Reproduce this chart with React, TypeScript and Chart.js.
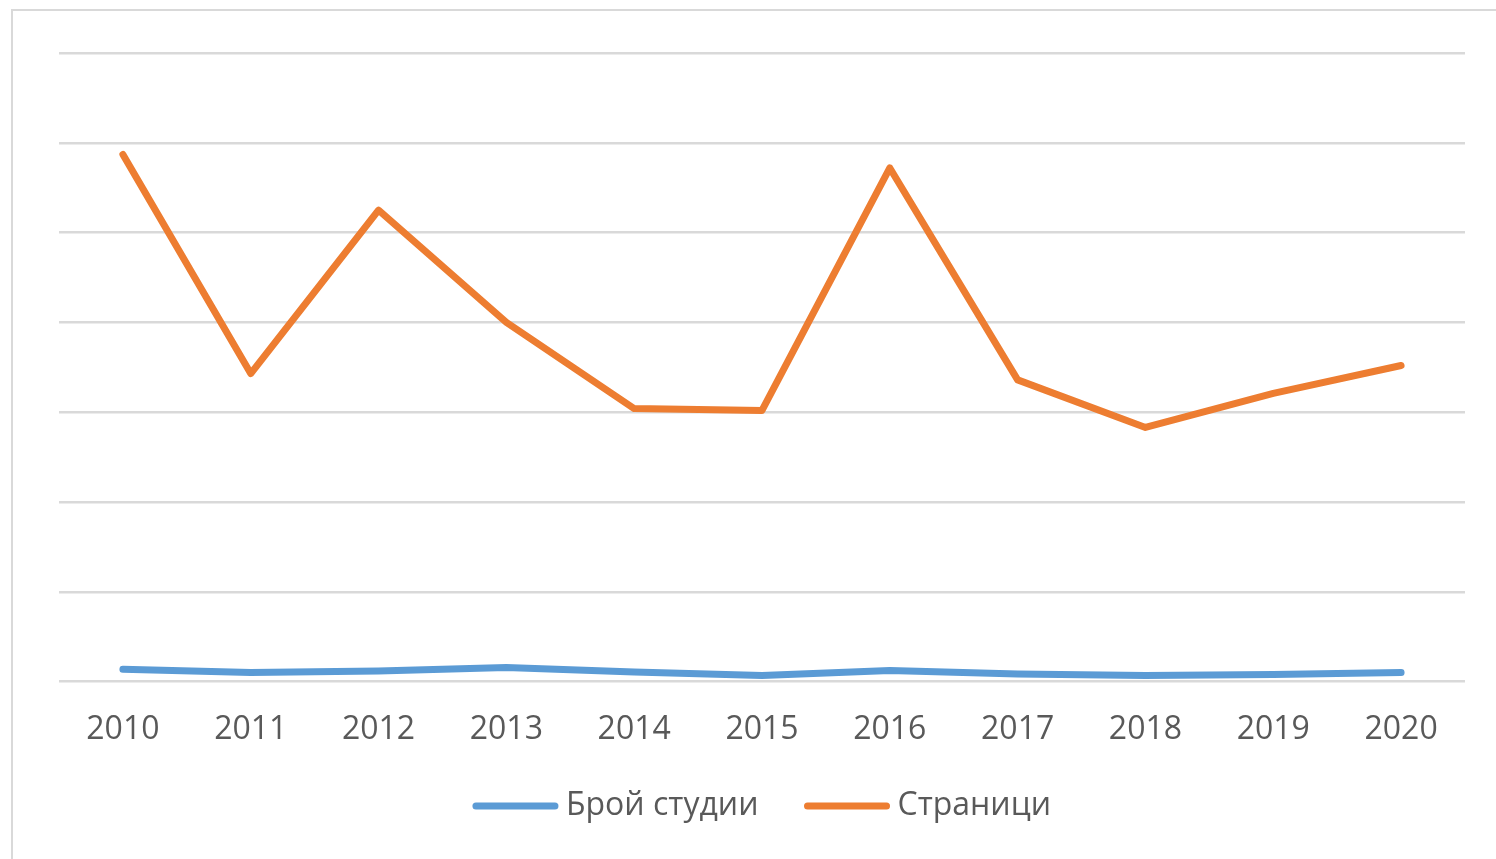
import React, { useEffect, useRef } from "react";
import { Chart, registerables } from "chart.js";

Chart.register(...registerables);

const years = ["2010", "2011", "2012", "2013", "2014", "2015", "2016", "2017", "2018", "2019", "2020"];
const students = [13.7, 10, 11.7, 15.6, 10.6, 6.7, 12.3, 8.4, 6.7, 7.8, 10];
const pages = [587, 343, 525, 400, 304, 302, 572, 336, 283, 321, 352];
const seriesNames = ["Брой студии", "Страници"];
const seriesColors = ["#5B9BD5", "#ED7D31"];

const FONT = "'Open Sans', 'Liberation Sans', sans-serif";

const legendPlugin = {
  id: "customLegend",
  afterDraw(chart: any) {
    const ctx = chart.ctx;
    const items = chart.data.datasets;
    ctx.save();
    ctx.font = `32px ${FONT}`;
    const lineW = 85;
    const gapText = 8;
    const gapItem = 46;
    const widths = items.map((d: any) => lineW + gapText + ctx.measureText(d.label).width);
    const total = widths.reduce((a: number, b: number) => a + b, 0) + gapItem * (items.length - 1);
    const center = (chart.chartArea.left + chart.chartArea.right) / 2;
    let x = center - total / 2;
    const y = 806;
    items.forEach((d: any, i: number) => {
      ctx.strokeStyle = d.borderColor;
      ctx.lineWidth = 7;
      ctx.lineCap = "round";
      ctx.beginPath();
      ctx.moveTo(x + 3, y);
      ctx.lineTo(x + lineW - 3, y);
      ctx.stroke();
      ctx.fillStyle = "#595959";
      ctx.textBaseline = "middle";
      ctx.textAlign = "left";
      ctx.fillText(d.label, x + lineW + gapText, y);
      x += widths[i] + gapItem;
    });
    ctx.restore();
  },
};

export default function App() {
  const ref = useRef<HTMLCanvasElement>(null);
  useEffect(() => {
    if (!ref.current) return;
    const chart = new Chart(ref.current, {
      type: "line",
      data: {
        labels: years,
        datasets: [
          {
            label: seriesNames[0],
            data: students,
            borderColor: seriesColors[0],
            backgroundColor: seriesColors[0],
            borderWidth: 7,
            borderCapStyle: "round",
            borderJoinStyle: "round",
            pointRadius: 0,
            tension: 0,
          },
          {
            label: seriesNames[1],
            data: pages,
            borderColor: seriesColors[1],
            backgroundColor: seriesColors[1],
            borderWidth: 7,
            borderCapStyle: "round",
            borderJoinStyle: "round",
            pointRadius: 0,
            tension: 0,
          },
        ],
      },
      options: {
        animation: false,
        responsive: false,
        maintainAspectRatio: false,
        layout: { padding: { left: 59, right: 31, top: 53, bottom: 89 } },
        plugins: {
          legend: { display: false },
          tooltip: { enabled: false },
        },
        scales: {
          x: {
            offset: true,
            grid: { display: false },
            border: { display: false },
            ticks: {
              color: "#595959",
              font: { family: FONT, size: 32 },
              padding: 21,
              maxRotation: 0,
              autoSkip: false,
            },
          },
          y: {
            min: 0,
            max: 700,
            border: { display: false },
            grid: { color: "#d9d9d9", lineWidth: 2.5, drawTicks: false },
            ticks: { display: false, stepSize: 100 },
          },
        },
      },
      plugins: [legendPlugin],
    });
    return () => chart.destroy();
  }, []);

  return (
    <div style={{ position: "fixed", left: 0, top: 0, width: 1496, height: 859, overflow: "hidden", background: "#fff" }}>
      <div
        style={{
          position: "absolute",
          left: 11,
          top: 9,
          width: 1600,
          height: 1000,
          borderLeft: "2px solid #d9d9d9",
          borderTop: "2px solid #d9d9d9",
        }}
      />
      <canvas ref={ref} width={1496} height={859} style={{ position: "absolute", left: 0, top: 0, width: 1496, height: 859 }} />
    </div>
  );
}
